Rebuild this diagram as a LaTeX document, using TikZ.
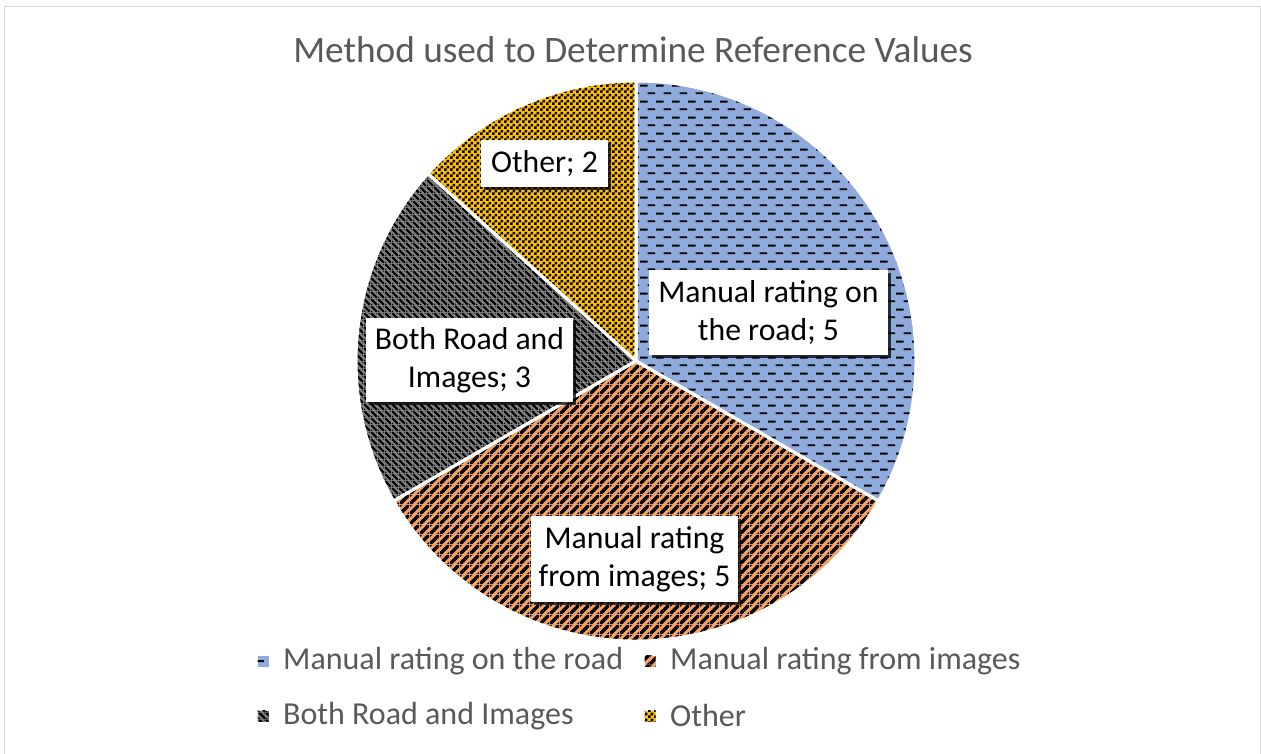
\documentclass[tikz,border=0pt]{standalone}
\usepackage{fontspec}
\setmainfont{Carlito}
\usepackage{xcolor}
\usepackage{tikz}
\usetikzlibrary{patterns,shadows}

\definecolor{roadblue}{RGB}{143,170,220}
\definecolor{imgorange}{RGB}{244,162,100}
\definecolor{bothgray}{RGB}{127,127,127}
\definecolor{otheryellow}{RGB}{255,192,0}
\definecolor{textgray}{RGB}{89,89,89}
\definecolor{framegray}{RGB}{217,217,217}

% short dashes in rows
\pgfdeclarepatternformonly{dashrows}{\pgfqpoint{0pt}{0pt}}{\pgfqpoint{16pt}{16pt}}{\pgfqpoint{16pt}{16pt}}{
  \pgfpathrectangle{\pgfqpoint{0pt}{11pt}}{\pgfqpoint{8pt}{2pt}}
  \pgfpathrectangle{\pgfqpoint{8pt}{3pt}}{\pgfqpoint{8pt}{2pt}}
  \pgfusepath{fill}
}
% wide stripes going up
\pgfdeclarepatternformonly{widestripes}{\pgfqpoint{0pt}{0pt}}{\pgfqpoint{10pt}{10pt}}{\pgfqpoint{10pt}{10pt}}{
  \pgfpathmoveto{\pgfqpoint{0pt}{0pt}}
  \pgfpathlineto{\pgfqpoint{2.5pt}{0pt}}
  \pgfpathlineto{\pgfqpoint{10pt}{7.5pt}}
  \pgfpathlineto{\pgfqpoint{10pt}{10pt}}
  \pgfpathlineto{\pgfqpoint{7.5pt}{10pt}}
  \pgfpathlineto{\pgfqpoint{0pt}{2.5pt}}
  \pgfpathclose
  \pgfpathmoveto{\pgfqpoint{7.5pt}{0pt}}
  \pgfpathlineto{\pgfqpoint{10pt}{0pt}}
  \pgfpathlineto{\pgfqpoint{10pt}{2.5pt}}
  \pgfpathclose
  \pgfpathmoveto{\pgfqpoint{0pt}{7.5pt}}
  \pgfpathlineto{\pgfqpoint{0pt}{10pt}}
  \pgfpathlineto{\pgfqpoint{2.5pt}{10pt}}
  \pgfpathclose
  \pgfusepath{fill}
}
% narrow stripes going down
\pgfdeclarepatternformonly{narrowstripes}{\pgfqpoint{0pt}{0pt}}{\pgfqpoint{7pt}{7pt}}{\pgfqpoint{7pt}{7pt}}{
  \pgfpathmoveto{\pgfqpoint{0pt}{5.25pt}}
  \pgfpathlineto{\pgfqpoint{0pt}{7pt}}
  \pgfpathlineto{\pgfqpoint{1.75pt}{7pt}}
  \pgfpathlineto{\pgfqpoint{7pt}{1.75pt}}
  \pgfpathlineto{\pgfqpoint{7pt}{0pt}}
  \pgfpathlineto{\pgfqpoint{5.25pt}{0pt}}
  \pgfpathclose
  \pgfpathmoveto{\pgfqpoint{0pt}{0pt}}
  \pgfpathlineto{\pgfqpoint{1.75pt}{0pt}}
  \pgfpathlineto{\pgfqpoint{0pt}{1.75pt}}
  \pgfpathclose
  \pgfpathmoveto{\pgfqpoint{7pt}{7pt}}
  \pgfpathlineto{\pgfqpoint{5.25pt}{7pt}}
  \pgfpathlineto{\pgfqpoint{7pt}{5.25pt}}
  \pgfpathclose
  \pgfusepath{fill}
}
% small checks
\pgfdeclarepatternformonly{smallchecks}{\pgfqpoint{0pt}{0pt}}{\pgfqpoint{6pt}{6pt}}{\pgfqpoint{6pt}{6pt}}{
  \pgfpathrectangle{\pgfqpoint{0pt}{0pt}}{\pgfqpoint{3pt}{3pt}}
  \pgfpathrectangle{\pgfqpoint{3pt}{3pt}}{\pgfqpoint{3pt}{3pt}}
  \pgfusepath{fill}
}

\tikzset{
  road/.style={fill=roadblue, postaction={pattern=dashrows}},
  images/.style={fill=imgorange, postaction={pattern=widestripes}},
  both/.style={fill=bothgray, postaction={pattern=narrowstripes}},
  other/.style={fill=otheryellow, postaction={pattern=smallchecks}},
  slice/.style={draw=white, line width=3pt, line join=round},
  datalabel/.style={fill=white, align=center, inner sep=0pt,
    font=\fontsize{31.7}{38}\selectfont,
    drop shadow={shadow xshift=3pt, shadow yshift=-3pt, fill=black, opacity=0.75}},
  legendkey/.style={minimum size=11pt, inner sep=0pt},
  legendtext/.style={anchor=west, text=textgray, inner sep=0pt,
    font=\fontsize{32}{38}\selectfont},
}

\begin{document}
\begin{tikzpicture}[x=1pt, y=1pt]
  \useasboundingbox (0,0) rectangle (1261,753);
  \fill[white] (0,0) rectangle (1261,753);
  \draw[framegray, line width=1.5pt] (4.5,746.5) rectangle (1260.5,-5);

  \node[text=textgray, font=\fontsize{37.3}{44}\selectfont] (title) at (633,703) {Method used to Determine Reference Values};

  % pie centre (636,392), radius 280
  \path[road] (636,392) -- ++(90:280) arc[start angle=90, end angle=-30, radius=280] -- cycle;
  \path[images] (636,392) -- ++(-30:280) arc[start angle=-30, end angle=-150, radius=280] -- cycle;
  \path[both] (636,392) -- ++(210:280) arc[start angle=210, end angle=138, radius=280] -- cycle;
  \path[other] (636,392) -- ++(138:280) arc[start angle=138, end angle=90, radius=280] -- cycle;
  \draw[slice] (636,392) -- ++(90:280) arc[start angle=90, end angle=-30, radius=280] -- cycle;
  \draw[slice] (636,392) -- ++(-30:280) arc[start angle=-30, end angle=-150, radius=280] -- cycle;
  \draw[slice] (636,392) -- ++(210:280) arc[start angle=210, end angle=138, radius=280] -- cycle;
  \draw[slice] (636,392) -- ++(138:280) arc[start angle=138, end angle=90, radius=280] -- cycle;

  \node[datalabel, minimum width=239pt, minimum height=85pt] (lblroad) at (768.5,440.5) {Manual rating on\\the road; 5};
  \node[datalabel, minimum width=207pt, minimum height=86pt] (lblimages) at (634.5,194) {Manual rating\\from images; 5};
  \node[datalabel, minimum width=207pt, minimum height=84pt] (lblboth) at (469.5,393) {Both Road and\\Images; 3};
  \node[datalabel, minimum width=127pt, minimum height=47pt] (lblother) at (544.5,589) {Other; 2};

  \node[legendkey, road] (keyroad) at (263,92) {};
  \node[legendtext] (txtroad) at (283,92) {Manual rating on the road};
  \node[legendkey, images] (keyimages) at (650,92) {};
  \node[legendtext] (txtimages) at (670,92) {Manual rating from images};
  \node[legendkey, both] (keyboth) at (263,37) {};
  \node[legendtext] (txtboth) at (283,37) {Both Road and Images};
  \node[legendkey, other] (keyother) at (650,37) {};
  \node[legendtext] (txtother) at (670,37) {Other};
\end{tikzpicture}
\end{document}
